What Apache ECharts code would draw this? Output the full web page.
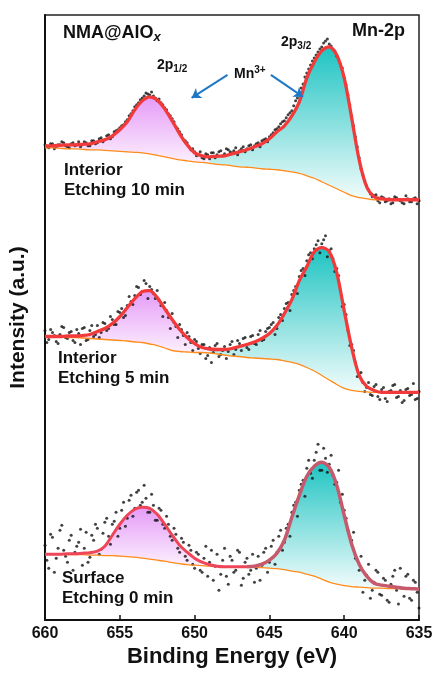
<!DOCTYPE html>
<html>
<head>
<meta charset="utf-8">
<script src="https://cdn.jsdelivr.net/npm/echarts@6/dist/echarts.min.js"></script>
<style>
  html, body { margin: 0; padding: 0; background: #fff; }
  #chart { width: 437px; height: 673px; }
</style>
</head>
<body>
<div id="chart"></div>
<script>
// binding energy grid of the fitted curves (eV)
var fitE = [660, 659.5, 659, 658.5, 658, 657.5, 657, 656.5, 656, 655.5,
  655, 654.5, 654, 653.5, 653, 652.5, 652, 651.5, 651, 650.5,
  650, 649.5, 649, 648.5, 648, 647.5, 647, 646.5, 646, 645.5,
  645, 644.5, 644, 643.5, 643, 642.5, 642, 641.5, 641, 640.5,
  640, 639.5, 639, 638.5, 638, 637.5, 637, 636.5, 636, 635.5,
  635];
// binding energies of the measured points (eV), two interleaved sets
var dotE = [660, 659.75, 659.5, 659.25, 659, 658.75, 658.5, 658.25, 658, 657.75,
  657.5, 657.25, 657, 656.75, 656.5, 656.25, 656, 655.75, 655.5, 655.25,
  655, 654.75, 654.5, 654.25, 654, 653.75, 653.5, 653.25, 653, 652.75,
  652.5, 652.25, 652, 651.75, 651.5, 651.25, 651, 650.75, 650.5, 650.25,
  650, 649.75, 649.5, 649.25, 649, 648.75, 648.5, 648.25, 648, 647.75,
  647.5, 647.25, 647, 646.75, 646.5, 646.25, 646, 645.75, 645.5, 645.25,
  645, 644.75, 644.5, 644.25, 644, 643.75, 643.5, 643.25, 643, 642.75,
  642.5, 642.25, 642, 641.75, 641.5, 641.25, 641, 640.75, 640.5, 640.25,
  640, 639.75, 639.5, 639.25, 639, 638.75, 638.5, 638.25, 638, 637.75,
  637.5, 637.25, 637, 636.75, 636.5, 636.25, 636, 635.75, 635.5, 635.25,
  635];
var dotE2 = [659.875, 659.625, 659.375, 659.125, 658.875, 658.625, 658.375, 658.125, 657.875, 657.625,
  657.375, 657.125, 656.875, 656.625, 656.375, 656.125, 655.875, 655.625, 655.375, 655.125,
  654.875, 654.625, 654.375, 654.125, 653.875, 653.625, 653.375, 653.125, 652.875, 652.625,
  652.375, 652.125, 651.875, 651.625, 651.375, 651.125, 650.875, 650.625, 650.375, 650.125,
  649.875, 649.625, 649.375, 649.125, 648.875, 648.625, 648.375, 648.125, 647.875, 647.625,
  647.375, 647.125, 646.875, 646.625, 646.375, 646.125, 645.875, 645.625, 645.375, 645.125,
  644.875, 644.625, 644.375, 644.125, 643.875, 643.625, 643.375, 643.125, 642.875, 642.625,
  642.375, 642.125, 641.875, 641.625, 641.375, 641.125, 640.875, 640.625, 640.375, 640.125,
  639.875, 639.625, 639.375, 639.125, 638.875, 638.625, 638.375, 638.125, 637.875, 637.625,
  637.375, 637.125, 636.875, 636.625, 636.375, 636.125, 635.875, 635.625, 635.375, 635.125];

// Interior, etching 10 min (offset spectrum, a.u.)
var fit10 = [475, 475, 475.5, 476, 476, 476.5, 477, 479, 481, 485,
  491, 499, 511, 520, 524, 521, 512, 500, 487, 476,
  468, 465, 464, 464.5, 465, 467, 469, 471, 474, 477,
  482, 489, 495, 505, 519, 543, 559, 570, 574, 566,
  543, 503, 461, 434, 424, 422, 421, 421, 421, 421, 421];
var base10 = [473, 473, 472.5, 472, 472, 471.5, 471, 471, 470.5, 470,
  469.5, 469, 468.5, 468, 467, 465.5, 464, 462.5, 461, 460,
  459, 458.5, 457.5, 456.5, 456, 455, 454, 453.5, 453, 452,
  451.5, 451, 450, 449, 447.5, 445, 442.5, 439, 435.5, 432,
  428.5, 425, 423, 422, 421, 421, 421, 421, 421, 421, 421];
var dots10 = [476, 473, 477, 474, 476, 478, 474, 477, 475, 479,
  476, 478, 475, 480, 478, 483, 481, 486, 484, 490,
  493, 496, 501, 507, 514, 518, 523, 528, 526, 525,
  520, 518, 513, 507, 502, 494, 489, 481, 478, 471,
  469, 466, 463, 467, 462, 468, 466, 470, 467, 471,
  468, 473, 470, 474, 472, 476, 475, 478, 480, 482,
  484, 488, 492, 497, 500, 506, 510, 520, 527, 537,
  548, 556, 563, 569, 574, 580, 577, 572, 565, 557,
  543, 526, 505, 484, 463, 446, 435, 427, 425, 420,
  424, 419, 422, 418, 423, 420, 417, 422, 419, 423,
  420];
var dots10b = [474, 477, 472, 476, 479, 475, 473, 478, 476, 474,
  479, 475, 480, 477, 482, 479, 485, 482, 489, 491,
  495, 499, 505, 510, 516, 521, 525, 527, 529, 523,
  522, 516, 511, 505, 499, 492, 486, 480, 474, 472,
  465, 469, 462, 466, 468, 463, 469, 465, 472, 469,
  470, 466, 472, 469, 475, 471, 477, 474, 481, 479,
  486, 491, 494, 499, 503, 508, 515, 523, 533, 544,
  552, 560, 566, 572, 578, 582, 575, 570, 562, 553,
  536, 516, 495, 474, 452, 440, 431, 424, 426, 418,
  423, 420, 417, 424, 421, 418, 425, 419, 422, 417];

// Interior, etching 5 min
var fit5 = [284, 284, 284, 284.5, 284.5, 285, 286, 289, 292, 297,
  304, 313, 322, 329, 330, 323, 312, 301, 291, 283,
  277, 273, 271.5, 271, 271, 272, 274, 276, 278.5, 282,
  287, 295, 307, 321, 340, 354, 369, 373, 369, 348,
  310, 273, 245, 234, 230, 228, 228, 228, 228, 228, 228];
var base5 = [284, 284, 283.5, 283, 283, 282.5, 282, 281.5, 281, 280.5,
  280, 279.5, 278.5, 278, 276.5, 275, 272.5, 270, 269, 268.5,
  268, 268, 267.5, 266.5, 265.5, 264.5, 264, 263, 262.5, 262,
  261.5, 261, 259.5, 258, 256, 253, 249.5, 245, 240.5, 236,
  232, 230, 229, 228.5, 228, 228, 228, 228, 228, 228, 228];
var dots5 = [290, 281, 288, 279, 286, 293, 282, 289, 278, 287,
  292, 280, 290, 284, 295, 288, 297, 292, 301, 296,
  308, 303, 315, 319, 325, 333, 329, 337, 334, 327,
  330, 315, 318, 303, 307, 294, 296, 285, 288, 278,
  281, 272, 276, 262, 273, 268, 277, 266, 274, 269,
  279, 271, 277, 282, 273, 284, 277, 286, 280, 289,
  293, 298, 292, 306, 312, 318, 326, 334, 344, 352,
  360, 368, 372, 380, 377, 385, 370, 362, 352, 330,
  316, 290, 276, 258, 247, 238, 233, 226, 234, 224,
  231, 222, 229, 235, 223, 230, 220, 232, 226, 221,
  229];
var dots5b = [278, 291, 285, 277, 294, 283, 288, 280, 291, 276,
  293, 281, 295, 286, 283, 298, 290, 304, 296, 309,
  312, 305, 324, 316, 334, 326, 340, 322, 331, 322,
  320, 304, 310, 292, 298, 283, 291, 276, 284, 270,
  279, 267, 276, 265, 258, 275, 264, 270, 262, 276,
  266, 280, 270, 283, 271, 285, 276, 290, 281, 292,
  296, 286, 303, 300, 317, 310, 330, 327, 350, 345,
  366, 362, 376, 368, 381, 364, 372, 349, 345, 314,
  306, 275, 270, 244, 248, 229, 238, 225, 236, 221,
  233, 219, 230, 236, 224, 218, 231, 225, 237, 222];

// Surface, etching 0 min
var fit0 = [66, 66, 66, 66.5, 66.5, 67, 67.5, 69, 74, 85,
  96, 105, 111, 113, 112, 106, 96, 85, 75, 68,
  62, 58, 55.5, 54, 53.5, 53.5, 53.5, 53.5, 54, 56,
  60, 67, 80, 103, 125, 144, 154, 158, 153, 135,
  105, 76, 56, 44, 37, 35, 34, 33, 32, 31.5, 31];
var base0 = [66, 66, 66, 65.5, 65.5, 65.5, 65, 65, 64.5, 64.5,
  64, 63.5, 63, 62, 61, 60, 59, 57.5, 56.5, 55.5,
  55, 54.5, 54, 54, 53.5, 53.5, 53, 53, 53, 52.5,
  52, 51.5, 50.5, 49, 48, 46, 44, 41, 38, 36,
  34.5, 33.5, 33, 32.5, 32, 32, 31.5, 31.5, 31, 31, 31];
var dots0 = [75, 52, 83, 62, 90, 70, 58, 85, 68, 78,
  55, 88, 63, 80, 92, 71, 98, 84, 96, 108,
  92, 118, 102, 125, 112, 130, 118, 122, 108, 115,
  100, 110, 92, 96, 80, 86, 68, 78, 60, 70,
  52, 66, 48, 74, 58, 40, 66, 46, 72, 36,
  60, 50, 68, 42, 62, 50, 38, 64, 55, 72,
  58, 80, 68, 90, 78, 96, 108, 118, 130, 140,
  152, 147, 160, 176, 150, 162, 156, 145, 138, 118,
  110, 90, 80, 62, 50, 28, 45, 22, 38, 48,
  25, 40, 18, 44, 30, 52, 24, 46, 20, 38,
  12];
var dots0b = [60, 86, 48, 72, 95, 64, 80, 50, 74, 91,
  72, 58, 85, 96, 66, 87, 102, 76, 99, 84,
  110, 94, 120, 104, 128, 115, 135, 108, 126, 100,
  112, 96, 104, 84, 92, 72, 82, 64, 75, 56,
  68, 50, 62, 44, 70, 54, 30, 60, 44, 64,
  48, 70, 35, 58, 46, 66, 52, 40, 68, 48,
  74, 56, 84, 70, 92, 84, 115, 104, 136, 124,
  160, 142, 168, 150, 172, 148, 165, 136, 150, 126,
  102, 84, 88, 60, 64, 40, 56, 30, 50, 26,
  42, 20, 36, 50, 16, 32, 44, 22, 40, 28];

var xTicks = [660, 655, 650, 645, 640, 635];
var split = 649; // 2p1/2 | 2p3/2 boundary

var FONT = 'Liberation Sans, Arial, Helvetica, sans-serif';
var PINK = ['#e59bf7', '#fcf0fe'];
var TEAL = ['#1ec4c2', '#f3fcfc'];

// area between fit and background, drawn through the axes
function band(top, base, lo, hi, colors) {
  return {
    type: 'custom',
    silent: true,
    z: 1,
    data: [[647, 0]],
    renderItem: function (params, api) {
      var pts = [];
      for (var i = 0; i < fitE.length; i++) {
        if (fitE[i] >= lo && fitE[i] <= hi) pts.push(api.coord([fitE[i], top[i]]));
      }
      for (var j = fitE.length - 1; j >= 0; j--) {
        if (fitE[j] >= lo && fitE[j] <= hi) pts.push(api.coord([fitE[j], base[j]]));
      }
      return {
        type: 'polygon',
        shape: { points: pts },
        style: {
          fill: new echarts.graphic.LinearGradient(0, 0, 0, 1, [
            { offset: 0, color: colors[0] },
            { offset: 1, color: colors[1] }
          ])
        }
      };
    }
  };
}

function curve(vals, color, width, lo, hi) {
  var data = [];
  for (var i = 0; i < fitE.length; i++) {
    if (fitE[i] >= lo && fitE[i] <= hi) data.push([fitE[i], vals[i]]);
  }
  return {
    type: 'line',
    data: data,
    z: 3,
    smooth: 0.3,
    symbol: 'none',
    silent: true,
    lineStyle: { color: color, width: width }
  };
}

function dots(energies, vals) {
  return {
    type: 'scatter',
    z: 2,
    silent: true,
    symbol: 'circle',
    symbolSize: 3,
    itemStyle: { color: '#111' },
    data: energies.map(function (e, i) { return [e, vals[i]]; })
  };
}

var series = [
  band(fit10, base10, split, 660, PINK),
  band(fit10, base10, 635, split, TEAL),
  band(fit5, base5, split, 660, PINK),
  band(fit5, base5, 635, split, TEAL),
  band(fit0, base0, split, 660, PINK),
  band(fit0, base0, 635, split, TEAL),
  dots(dotE, dots10), dots(dotE2, dots10b),
  dots(dotE, dots5), dots(dotE2, dots5b),
  dots(dotE, dots0), dots(dotE2, dots0b),
  curve(base10, '#ff8c1a', 1.3, 635, 660),
  curve(base5, '#ff8c1a', 1.3, 635, 660),
  curve(base0, '#ff8c1a', 1.3, 635, 660),
  curve(fit10, '#f23a3a', 3.3, 635, 660),
  curve(fit5, '#f23a3a', 3.3, 635, 660),
  curve(fit0, '#ee4558', 3, 646.5, 660),
  curve(fit0, '#c65a6c', 3.5, 635, 646.5)
];

// Mn3+ arrows
series[6].markLine = {
  silent: true,
  symbol: ['none', 'arrow'],
  symbolSize: 9,
  label: { show: false },
  lineStyle: { color: '#1f78c6', width: 2, type: 'solid' },
  data: [
    [{ coord: [647.8, 546] }, { coord: [650.2, 523] }],
    [{ coord: [644.9, 546] }, { coord: [642.75, 524] }]
  ]
};

function label(left, top, text, rich) {
  return { type: 'text', left: left, top: top, z: 10, style: { text: text, rich: rich } };
}
var big = { fontSize: 18, fontWeight: 'bold', fontFamily: FONT, fill: '#111', lineHeight: 22 };
var med = { fontSize: 14, fontWeight: 'bold', fontFamily: FONT, fill: '#111', lineHeight: 18 };
var sub = { fontSize: 10, fontWeight: 'bold', fontFamily: FONT, fill: '#111', lineHeight: 10, verticalAlign: 'bottom' };
var sup = { fontSize: 10, fontWeight: 'bold', fontFamily: FONT, fill: '#111', lineHeight: 10, verticalAlign: 'top' };
var sample = { fontSize: 17, fontWeight: 'bold', fontFamily: FONT, fill: '#111', lineHeight: 20 };

var option = {
  animation: false,
  backgroundColor: '#fff',
  grid: {
    left: 45, right: 18, top: 15, bottom: 52,
    show: true, borderColor: '#222', borderWidth: 1.5
  },
  xAxis: {
    type: 'value',
    min: 635, max: 660, interval: 5,
    inverse: true,
    name: 'Binding Energy (eV)',
    nameLocation: 'middle',
    nameGap: 24,
    nameTextStyle: { fontSize: 22, fontWeight: 'bold', fontFamily: FONT, color: '#111' },
    axisLine: { lineStyle: { color: '#111', width: 2 } },
    axisTick: { inside: true, length: 5, lineStyle: { color: '#111', width: 1.5 } },
    axisLabel: {
      margin: 5, fontSize: 16, fontWeight: 'bold', fontFamily: FONT, color: '#111',
      formatter: function (v) { return xTicks.indexOf(v) >= 0 ? String(v) : ''; }
    },
    splitLine: { show: false }
  },
  yAxis: {
    type: 'value',
    min: 0, max: 606,
    name: 'Intensity (a.u.)',
    nameLocation: 'middle',
    nameRotate: 90,
    nameGap: 16,
    nameTextStyle: { fontSize: 21, fontWeight: 'bold', fontFamily: FONT, color: '#111' },
    axisLine: { show: true, lineStyle: { color: '#111', width: 2 } },
    axisTick: { show: false },
    axisLabel: { show: false },
    splitLine: { show: false }
  },
  graphic: [
    label(63, 24, '{a|NMA@AlO}{b|x}', { a: big, b: { fontSize: 13, fontWeight: 'bold', fontStyle: 'italic', fontFamily: FONT, fill: '#111', lineHeight: 13, verticalAlign: 'bottom' } }),
    label(352, 22, '{a|Mn-2p}', { a: big }),
    label(281, 35, '{a|2p}{b|3/2}', { a: med, b: sub }),
    label(157, 58, '{a|2p}{b|1/2}', { a: med, b: sub }),
    label(234, 65, '{a|Mn}{c|3+}', { a: med, c: sup }),
    label(64, 162, '{a|Interior}\n{a|Etching 10 min}', { a: sample }),
    label(58, 350, '{a|Interior}\n{a|Etching 5 min}', { a: sample }),
    label(62, 570, '{a|Surface}\n{a|Etching 0 min}', { a: sample })
  ],
  series: series
};

var chart = echarts.init(document.getElementById('chart'), null, { renderer: 'canvas' });
chart.setOption(option);
</script>
</body>
</html>
